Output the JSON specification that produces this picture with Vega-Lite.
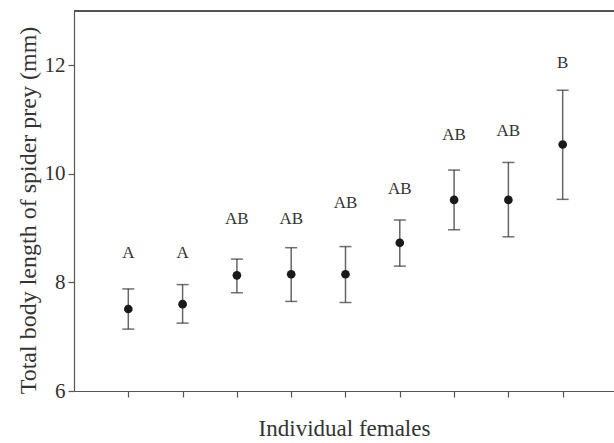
{
  "$schema": "https://vega.github.io/schema/vega-lite/v6.json",
  "autosize": {"type": "none"},
  "width": 540,
  "height": 380,
  "padding": {"left": 74, "top": 11, "right": 0, "bottom": 52},
  "background": "white",
  "config": {
    "view": {"stroke": null},
    "font": "Liberation Serif",
    "axis": {
      "domainColor": "#555555",
      "domainWidth": 1.2,
      "tickColor": "#555555",
      "tickWidth": 1.2,
      "grid": false,
      "labelFont": "Liberation Serif",
      "titleFont": "Liberation Serif",
      "labelColor": "#333333",
      "titleColor": "#333333",
      "titleFontWeight": "normal"
    }
  },
  "data": {
    "values": [
      {"female": 1, "mean": 7.51, "lower": 7.14, "upper": 7.88, "group": "A", "letter_y": 8.55},
      {"female": 2, "mean": 7.60, "lower": 7.25, "upper": 7.96, "group": "A", "letter_y": 8.55},
      {"female": 3, "mean": 8.13, "lower": 7.81, "upper": 8.43, "group": "AB", "letter_y": 9.17},
      {"female": 4, "mean": 8.15, "lower": 7.65, "upper": 8.64, "group": "AB", "letter_y": 9.17},
      {"female": 5, "mean": 8.15, "lower": 7.63, "upper": 8.66, "group": "AB", "letter_y": 9.46},
      {"female": 6, "mean": 8.73, "lower": 8.30, "upper": 9.15, "group": "AB", "letter_y": 9.73},
      {"female": 7, "mean": 9.52, "lower": 8.97, "upper": 10.07, "group": "AB", "letter_y": 10.71},
      {"female": 8, "mean": 9.52, "lower": 8.84, "upper": 10.21, "group": "AB", "letter_y": 10.79},
      {"female": 9, "mean": 10.54, "lower": 9.53, "upper": 11.54, "group": "B", "letter_y": 12.05}
    ]
  },
  "encoding": {
    "x": {
      "field": "female",
      "type": "quantitative",
      "scale": {"domain": [0, 9.945], "nice": false, "zero": false},
      "axis": {
        "values": [1, 2, 3, 4, 5, 6, 7, 8, 9],
        "labels": false,
        "tickSize": 6,
        "title": "Individual females",
        "titleFontSize": 23,
        "titlePadding": 20
      }
    }
  },
  "layer": [
    {
      "mark": {"type": "rule", "color": "#555555", "strokeWidth": 1.2},
      "encoding": {"y": {"datum": 13, "type": "quantitative"}, "x": null}
    },
    {
      "mark": {"type": "rule", "color": "#666666", "strokeWidth": 1.5},
      "encoding": {
        "y": {
          "field": "lower",
          "type": "quantitative",
          "scale": {"domain": [6, 13], "nice": false, "zero": false},
          "axis": {
            "values": [6, 8, 10, 12],
            "format": "d",
            "tickSize": 6,
            "labelFontSize": 21,
            "labelPadding": 3,
            "title": "Total body length of spider prey (mm)",
            "titleFontSize": 24,
            "titlePadding": 4,
            "titleY": 199
          }
        },
        "y2": {"field": "upper"}
      }
    },
    {
      "mark": {"type": "tick", "orient": "horizontal", "color": "#333333", "size": 12, "thickness": 1.5},
      "encoding": {"y": {"field": "upper", "type": "quantitative"}}
    },
    {
      "mark": {"type": "tick", "orient": "horizontal", "color": "#333333", "size": 12, "thickness": 1.5},
      "encoding": {"y": {"field": "lower", "type": "quantitative"}}
    },
    {
      "mark": {"type": "circle", "color": "#1a1a1a", "opacity": 1, "size": 75},
      "encoding": {"y": {"field": "mean", "type": "quantitative"}}
    },
    {
      "mark": {"type": "text", "font": "Liberation Serif", "fontSize": 17, "color": "#333333", "baseline": "middle"},
      "encoding": {
        "y": {"field": "letter_y", "type": "quantitative"},
        "text": {"field": "group"}
      }
    }
  ]
}
